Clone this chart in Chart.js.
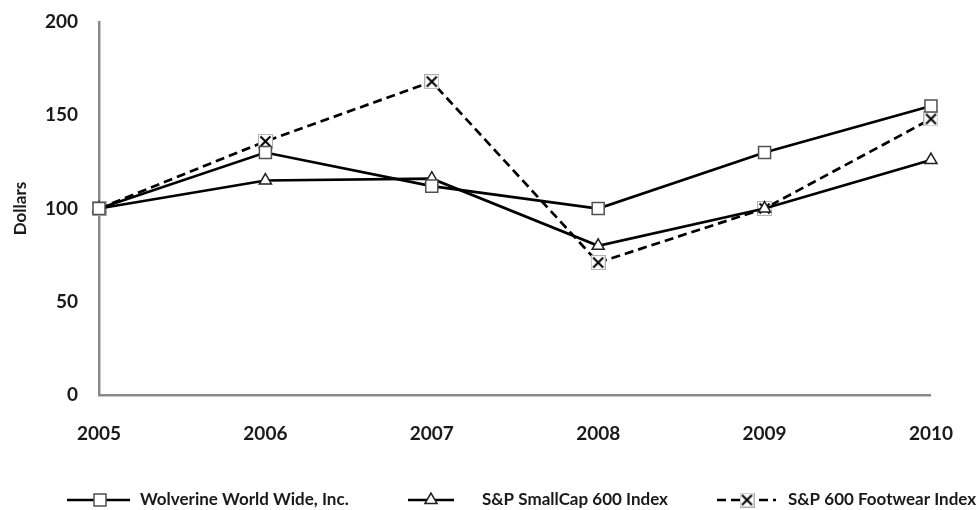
<!DOCTYPE html>
<html>
<head>
<meta charset="utf-8">
<script src="https://cdn.jsdelivr.net/npm/chart.js@4.4.0/dist/chart.umd.min.js"></script>
<style>
  html, body { margin: 0; padding: 0; background: #ffffff; }
  #wrap { width: 980px; height: 510px; }
</style>
</head>
<body>
<div id="wrap"><canvas id="c" width="980" height="510"></canvas></div>
<script>
const years = ['2005', '2006', '2007', '2008', '2009', '2010'];
const wolverine = [100, 130, 112, 100, 130, 155];
const smallCap = [100, 115, 116, 80, 100, 126];
const footwear = [100, 136, 168, 71, 100, 148];
const seriesNames = ['Wolverine World Wide, Inc.', 'S&P SmallCap 600 Index', 'S&P 600 Footwear Index'];
const yTicks = [0, 50, 100, 150, 200];

const FONT = 'Lato, "Open Sans", "DejaVu Sans", sans-serif';

function makeXMarker() {
  const s = 15;
  const cv = document.createElement('canvas');
  cv.width = s; cv.height = s;
  const g = cv.getContext('2d');
  g.fillStyle = '#ffffff';
  g.fillRect(0, 0, s, s);
  g.strokeStyle = '#b0b0b0';
  g.lineWidth = 1;
  g.strokeRect(0.5, 0.5, s - 1, s - 1);
  g.strokeStyle = '#000000';
  g.lineWidth = 2;
  g.beginPath();
  g.moveTo(2.5, 2.5); g.lineTo(s - 2.5, s - 2.5);
  g.moveTo(s - 2.5, 2.5); g.lineTo(2.5, s - 2.5);
  g.stroke();
  return cv;
}
const xMarker = makeXMarker();

const legendPlugin = {
  id: 'customLegend',
  afterDraw(chart) {
    const ctx = chart.ctx;
    const y = 500;
    const items = [
      { x0: 67, x1: 130, mx: 100, tx: 140 },
      { x0: 408, x1: 454, mx: 431, tx: 482 },
      { x0: 717, x1: 776, mx: 747, tx: 788 }
    ];
    chart.data.datasets.forEach((ds, i) => {
      const it = items[i];
      ctx.save();
      ctx.strokeStyle = '#000';
      ctx.lineWidth = 2.5;
      ctx.setLineDash(ds.borderDash || []);
      ctx.beginPath();
      ctx.moveTo(it.x0, y);
      ctx.lineTo(it.x1, y);
      ctx.stroke();
      ctx.setLineDash([]);
      ctx.fillStyle = '#ffffff';
      ctx.strokeStyle = ds.pointBorderColor;
      ctx.lineWidth = ds.pointBorderWidth;
      Chart.helpers.drawPoint(ctx, {
        pointStyle: ds.pointStyle,
        radius: ds.pointRadius,
        borderWidth: ds.pointBorderWidth,
        rotation: 0
      }, it.mx, y);
      ctx.restore();
      ctx.save();
      ctx.font = 'bold 17px ' + FONT;
      ctx.fillStyle = '#1a1a1a';
      ctx.textBaseline = 'middle';
      ctx.textAlign = 'left';
      ctx.fillText(ds.label, it.tx, y);
      ctx.restore();
    });
  }
};

const commonLine = {
  borderColor: '#000000',
  borderWidth: 2.7,
  tension: 0,
  fill: false,
  clip: false,
  pointBackgroundColor: '#ffffff'
};

new Chart(document.getElementById('c'), {
  type: 'line',
  data: {
    labels: years,
    datasets: [
      Object.assign({}, commonLine, {
        label: seriesNames[0],
        data: wolverine,
        pointStyle: 'rect',
        pointRadius: 8.5,
        pointBorderColor: '#505050',
        pointBorderWidth: 1.5
      }),
      Object.assign({}, commonLine, {
        label: seriesNames[1],
        data: smallCap,
        pointStyle: 'triangle',
        pointRadius: 7,
        pointBorderColor: '#202020',
        pointBorderWidth: 1.5
      }),
      Object.assign({}, commonLine, {
        label: seriesNames[2],
        data: footwear,
        borderDash: [9, 5],
        pointStyle: xMarker,
        pointRadius: 7,
        pointBorderColor: '#000000',
        pointBorderWidth: 1.5
      })
    ]
  },
  options: {
    responsive: false,
    animation: false,
    devicePixelRatio: 1,
    layout: { padding: { left: 0, top: 22, right: 44, bottom: 0 } },
    plugins: {
      legend: { display: false },
      tooltip: { enabled: false }
    },
    scales: {
      x: {
        offset: false,
        grid: { display: false, drawTicks: false },
        border: { display: true, color: '#8a8a8a', width: 2.5 },
        ticks: {
          color: '#1a1a1a',
          font: { family: FONT, size: 19, weight: 'bold' },
          padding: 27,
          maxRotation: 0,
          autoSkip: false
        },
        afterFit(scale) { scale.height = 115; }
      },
      y: {
        min: 0,
        max: 200,
        afterBuildTicks(scale) { scale.ticks = yTicks.map(v => ({ value: v })); },
        grid: {
          display: true,
          drawOnChartArea: false,
          drawTicks: true,
          tickLength: 21,
          tickColor: 'rgba(0,0,0,0)'
        },
        border: { display: true, color: '#8a8a8a', width: 2.5 },
        ticks: {
          color: '#1a1a1a',
          font: { family: FONT, size: 19, weight: 'bold' },
          padding: 0
        },
        title: {
          display: true,
          text: 'Dollars',
          color: '#1a1a1a',
          font: { family: FONT, size: 17, weight: 'bold' },
          padding: { top: 10, bottom: 0 }
        },
        afterFit(scale) { scale.width = 99; }
      }
    }
  },
  plugins: [legendPlugin]
});
</script>
</body>
</html>
